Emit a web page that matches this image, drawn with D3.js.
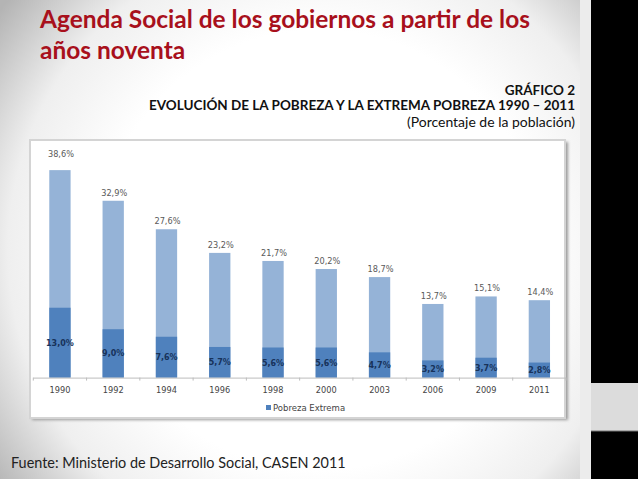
<!DOCTYPE html>
<html><head><meta charset="utf-8">
<script src="https://cdn.jsdelivr.net/npm/d3@7"></script>
<style>html,body{margin:0;padding:0;overflow:hidden;background:#fff}</style>
</head><body>
<svg id="c" width="638" height="479"></svg>
<script>
// ---- data ----
const years = ["1990","1992","1994","1996","1998","2000","2003","2006","2009","2011"];
const pobreza = [38.6, 32.9, 27.6, 23.2, 21.7, 20.2, 18.7, 13.7, 15.1, 14.4];
const extrema = [13.0, 9.0, 7.6, 5.7, 5.6, 5.6, 4.7, 3.2, 3.7, 2.8];
const titleLines = ["Agenda Social de los gobiernos a partir de los", "años noventa"];
const subtitleLines = ["GRÁFICO 2", "EVOLUCIÓN DE LA POBREZA Y LA EXTREMA POBREZA 1990 – 2011", "(Porcentaje de la población)"];
const legendLabel = "Pobreza Extrema";
const sourceText = "Fuente: Ministerio de Desarrollo Social, CASEN 2011";

const fmt = v => v.toFixed(1).replace(".", ",") + "%";
const svg = d3.select("#c");
const defs = svg.append("defs");

// slide background
const rg = defs.append("radialGradient").attr("id","bg")
  .attr("gradientUnits","userSpaceOnUse").attr("cx",320).attr("cy",250).attr("r",400);
rg.append("stop").attr("offset",0).attr("stop-color","#ffffff");
rg.append("stop").attr("offset",0.55).attr("stop-color","#ffffff");
rg.append("stop").attr("offset",0.78).attr("stop-color","#efefef");
rg.append("stop").attr("offset",1).attr("stop-color","#b4b4b4");
svg.append("rect").attr("x",0).attr("y",0).attr("width",591).attr("height",479).attr("fill","url(#bg)");
// right strip
svg.append("rect").attr("x",580).attr("y",0).attr("width",11).attr("height",479).attr("fill","#ececec");
svg.append("rect").attr("x",591).attr("y",0).attr("width",47).attr("height",479).attr("fill","#000");
svg.append("rect").attr("x",591).attr("y",383).attr("width",47).attr("height",48).attr("fill","#dcdcdc");
svg.append("line").attr("x1",591).attr("x2",638).attr("y1",431).attr("y2",431).attr("stroke","#777").attr("stroke-width",1);

function fit(sel, w){
  const n = sel.node(); const fs = parseFloat(sel.attr("font-size"));
  const l = n.getComputedTextLength(); sel.attr("font-size", (fs*w/l).toFixed(2));
}

// title
const tBase = [28, 59];
let tfs = 22;
titleLines.forEach((t,i)=>{
  const s = svg.append("text").attr("x",40).attr("y",tBase[i]).text(t)
    .attr("font-family","Lato, 'Open Sans', sans-serif").attr("font-weight",700)
    .attr("font-size",tfs).attr("fill","#a8101c");
  if(i===0){ fit(s, 490); tfs = s.attr("font-size"); }
  else s.attr("font-size", tfs);
});

// subtitle
const sBase = [94.5, 110, 127];
const sWidth = [null, 426, 168];
let subFs = 12.5;
[1,0,2].forEach(i=>{
  const s = svg.append("text").attr("x",575).attr("y",sBase[i]).attr("text-anchor","end").text(subtitleLines[i])
    .attr("font-family","Lato, 'Open Sans', sans-serif").attr("font-weight", i<2?700:400)
    .attr("font-size",subFs).attr("fill","#111");
  if(sWidth[i]) fit(s, sWidth[i]);
  if(i===1) subFs = s.attr("font-size");
});

// chart frame
const filt = defs.append("filter").attr("id","sh").attr("x","-5%").attr("y","-5%").attr("width","110%").attr("height","110%");
filt.append("feGaussianBlur").attr("stdDeviation",1.5);
svg.append("rect").attr("x",32).attr("y",142).attr("width",536).attr("height",278).attr("fill","#9a9a9a").attr("filter","url(#sh)");
svg.append("rect").attr("x",30).attr("y",140).attr("width",535).attr("height",278)
  .attr("fill","#fff").attr("stroke","#d4d4d4").attr("stroke-width",2);

// scales
const x = d3.scaleBand().domain(years).range([33.3, 566]).paddingInner(0.6).paddingOuter(0.3);
const y = d3.scaleLinear().domain([0, 40]).range([377.6, 162.6]);

const rows = years.map((yr,i)=>({yr, p:pobreza[i], e:extrema[i], i}));
const g = svg.append("g");
g.selectAll("rect.p").data(rows).join("rect").attr("class","p")
  .attr("x",d=>x(d.yr)).attr("width",x.bandwidth())
  .attr("y",d=>y(d.p)).attr("height",d=>y(0)-y(d.p)).attr("fill","#95b3d7");
g.selectAll("rect.e").data(rows).join("rect").attr("class","e")
  .attr("x",d=>x(d.yr)).attr("width",x.bandwidth())
  .attr("y",d=>y(d.e)).attr("height",d=>y(0)-y(d.e)).attr("fill","#4f81bd");

const lf = "'DejaVu Sans', Verdana, sans-serif";
g.selectAll("text.pl").data(rows).join("text").attr("class","pl")
  .attr("x",d=>x(d.yr)+x.bandwidth()/2+1).attr("y",d=>y(d.p)-(d.i===0?13:5))
  .attr("text-anchor","middle").attr("font-family",lf).attr("font-size",8.2).attr("fill","#5a5a5a")
  .text(d=>fmt(d.p));
g.selectAll("text.el").data(rows).join("text").attr("class","el")
  .attr("x",d=>x(d.yr)+x.bandwidth()/2).attr("y",d=>(y(d.e)+y(0))/2+3)
  .attr("text-anchor","middle").attr("font-family",lf).attr("font-size",8).attr("font-weight",700)
  .attr("fill","#17325a")
  .text(d=>fmt(d.e));

// axis
const ax = svg.append("g").attr("transform",`translate(0,${y(0)})`)
  .call(d3.axisBottom(x).tickSize(0).tickPadding(10));
ax.select(".domain").attr("stroke","#bdbdbd").attr("d","M33.3,0.5H566");
ax.selectAll("text").attr("font-family",lf).attr("font-size",8.2).attr("fill","#444");
const bounds = years.map(yr=>x(yr)-x.step()*x.paddingInner()/2).concat([566]);
ax.selectAll("line.b").data(bounds).join("line").attr("class","b")
  .attr("x1",d=>d).attr("x2",d=>d).attr("y1",0).attr("y2",3).attr("stroke","#bdbdbd");

// legend
const lg = svg.append("g").attr("transform","translate(266,408)");
lg.append("rect").attr("x",0).attr("y",-3).attr("width",5).attr("height",5).attr("fill","#4f81bd");
lg.append("text").attr("x",7).attr("y",3).attr("font-family",lf).attr("font-size",8.5).attr("fill","#444").text(legendLabel);

// source
const src = svg.append("text").attr("x",11).attr("y",468).text(sourceText)
  .attr("font-family","Lato, 'Open Sans', sans-serif").attr("font-size",14).attr("fill","#222");
fit(src, 335);
</script>
</body></html>
